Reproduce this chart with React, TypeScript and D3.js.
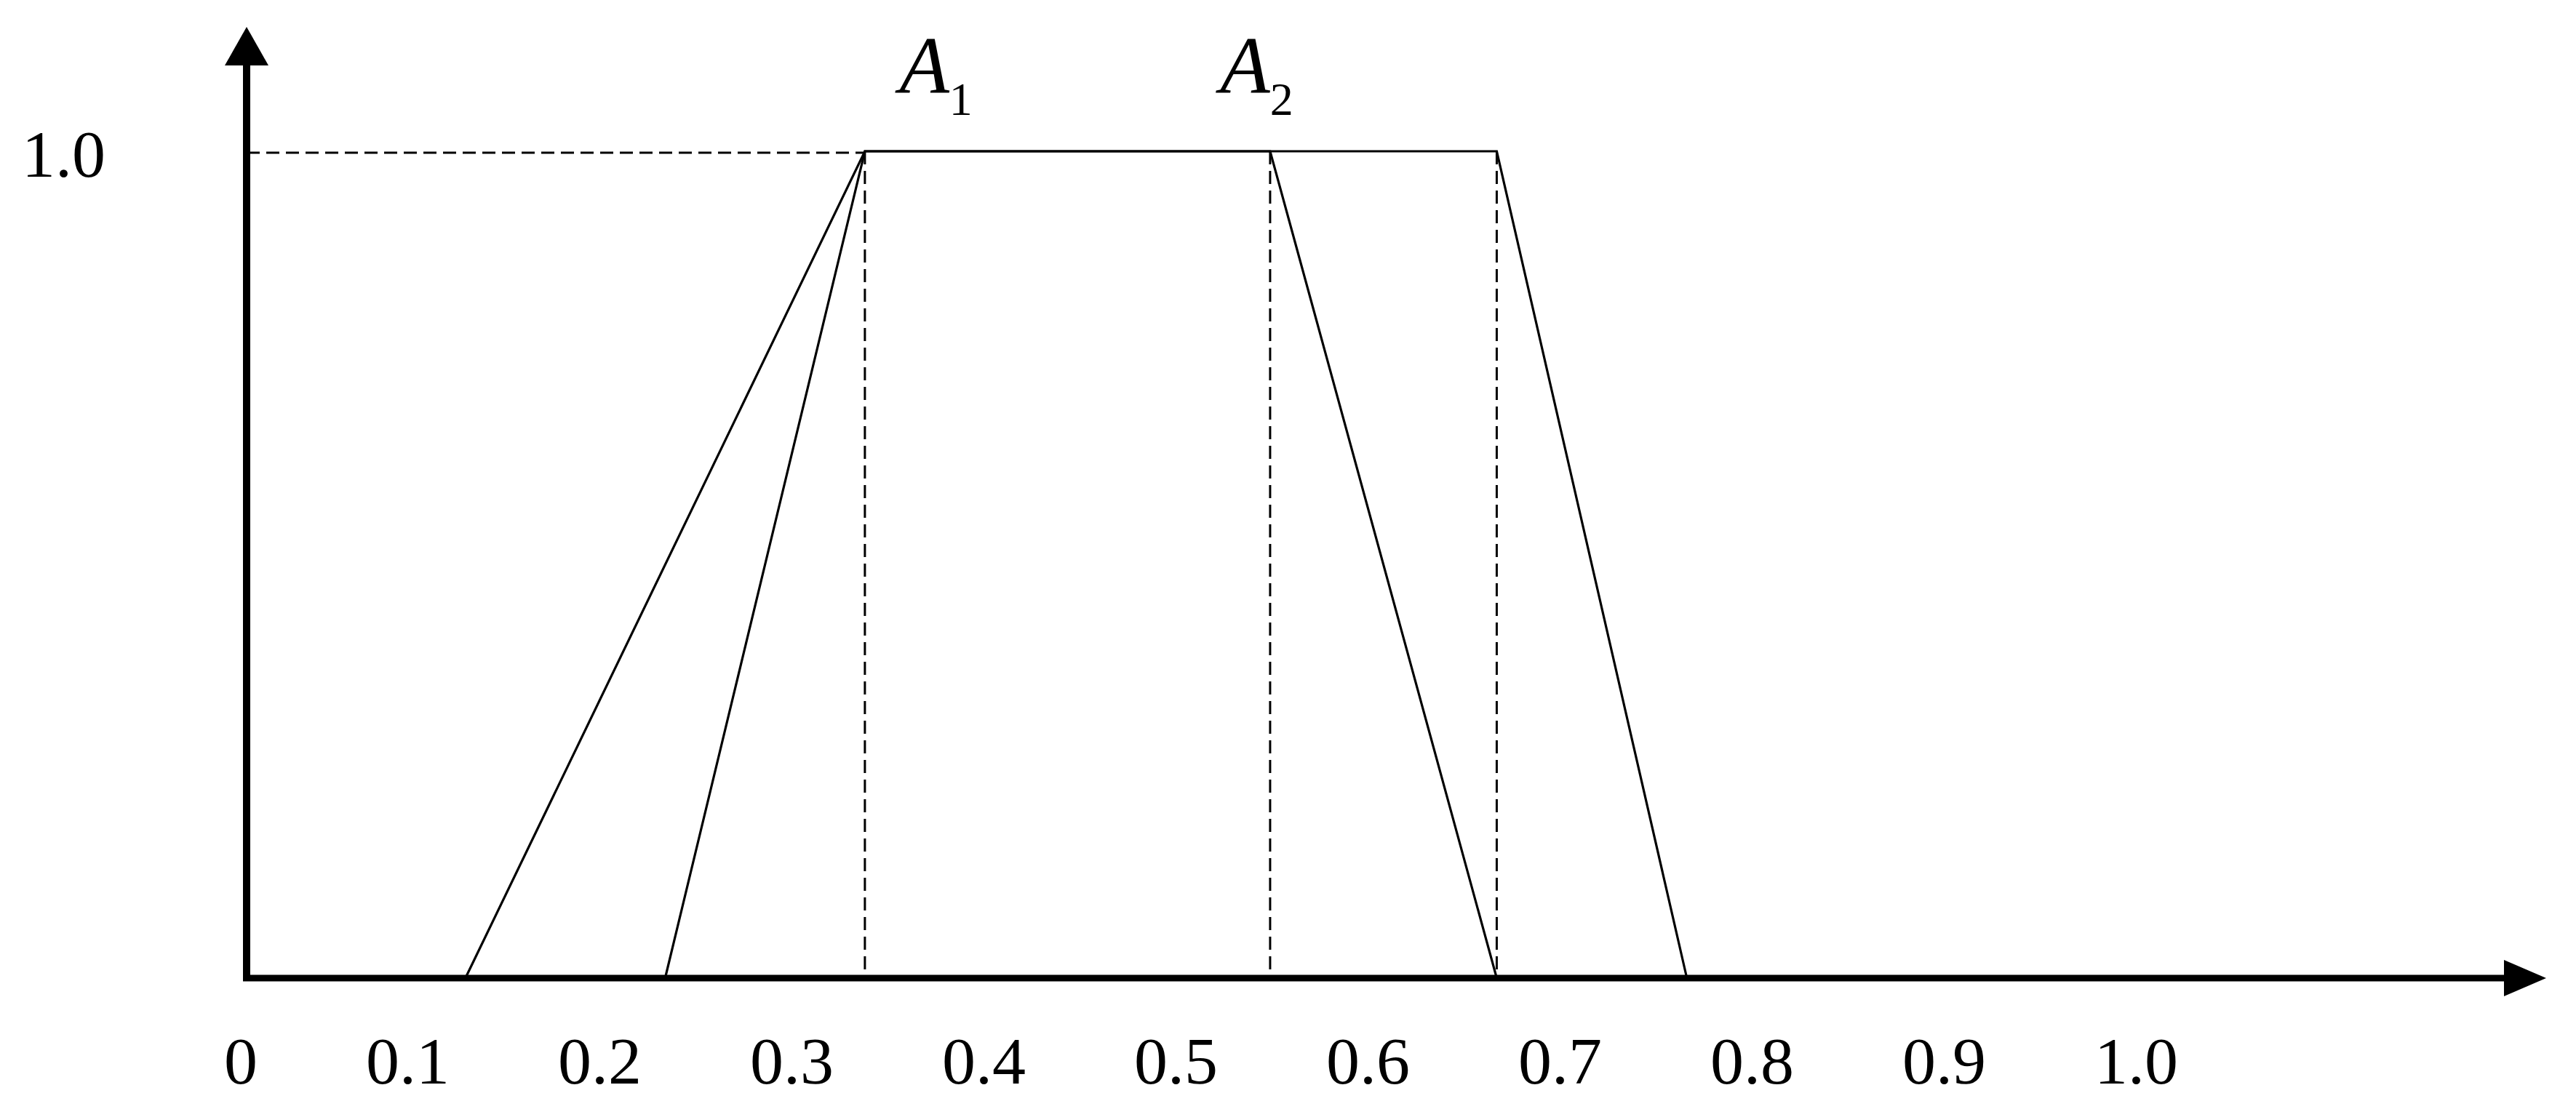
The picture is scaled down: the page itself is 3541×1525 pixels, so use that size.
import * as d3 from "d3";

// membership function breakpoints (x)
const setLabels = ["A", "A"];
const setSubs = ["1", "2"];
const setLabelX = [0.36, 0.527];
const trapA1 = [0.134, 0.342, 0.553, 0.671];
const trapA2 = [0.238, 0.342, 0.671, 0.77];
const trapGrades = [0, 1, 1, 0];
const guideX = [0.342, 0.553, 0.671];
const xTicks = [0, 0.1, 0.2, 0.3, 0.4, 0.5, 0.6, 0.7, 0.8, 0.9, 1.0];
const xTickLabels = ["0", "0.1", "0.2", "0.3", "0.4", "0.5", "0.6", "0.7", "0.8", "0.9", "1.0"];
const yTickLabel = "1.0";

const W = 3541;
const H = 1525;
const originX = 339;
const originY = 1345;
const font = "'Liberation Serif', 'Times New Roman', serif";

export default function App() {
  const x = d3.scaleLinear().domain([0, 1]).range([286, 2926]);
  const y = d3.scaleLinear().domain([0, 1]).range([originY, 208]);

  const line = d3
    .line<number>()
    .x((d) => x(d))
    .y((d, i) => y(trapGrades[i]));

  return (
    <svg
      width={W}
      height={H}
      style={{ position: "absolute", left: 0, top: 0, background: "#fff" }}
    >
      {/* dashed guides */}
      <line
        x1={originX}
        x2={x(guideX[0])}
        y1={y(1) + 2}
        y2={y(1) + 2}
        stroke="#000"
        strokeWidth={3}
        strokeDasharray="18 9"
      />
      {guideX.map((g) => (
        <line
          key={g}
          x1={x(g)}
          x2={x(g)}
          y1={y(1)}
          y2={y(0)}
          stroke="#000"
          strokeWidth={3}
          strokeDasharray="18 9"
        />
      ))}

      {/* trapezoids */}
      {[trapA1, trapA2].map((t, i) => (
        <path key={i} d={line(t) ?? ""} fill="none" stroke="#000" strokeWidth={3.2} />
      ))}

      {/* axes */}
      <line x1={originX} x2={originX} y1={originY + 4} y2={88} stroke="#000" strokeWidth={10} />
      <path d={`M${originX},37 L${originX - 30},90 L${originX + 30},90 Z`} fill="#000" />
      <line x1={originX - 5} x2={3445} y1={originY} y2={originY} stroke="#000" strokeWidth={9} />
      <path d={`M3500,${originY} L3442,${originY - 25} L3442,${originY + 25} Z`} fill="#000" />

      {/* tick labels */}
      {xTicks.map((t, i) => (
        <text
          key={t}
          x={x(t) + 68}
          y={1490}
          textAnchor="end"
          fontFamily={font}
          fontSize={92}
          fill="#000"
        >
          {xTickLabels[i]}
        </text>
      ))}
      <text x={30} y={243} fontFamily={font} fontSize={92} fill="#000">
        {yTickLabel}
      </text>

      {/* set names */}
      {setLabels.map((s, i) => (
        <text key={i} x={x(setLabelX[i])} y={128} fontFamily={font} fill="#000">
          <tspan fontSize={112} fontStyle="italic">
            {s}
          </tspan>
          <tspan fontSize={64} dy={30}>
            {setSubs[i]}
          </tspan>
        </text>
      ))}
    </svg>
  );
}
